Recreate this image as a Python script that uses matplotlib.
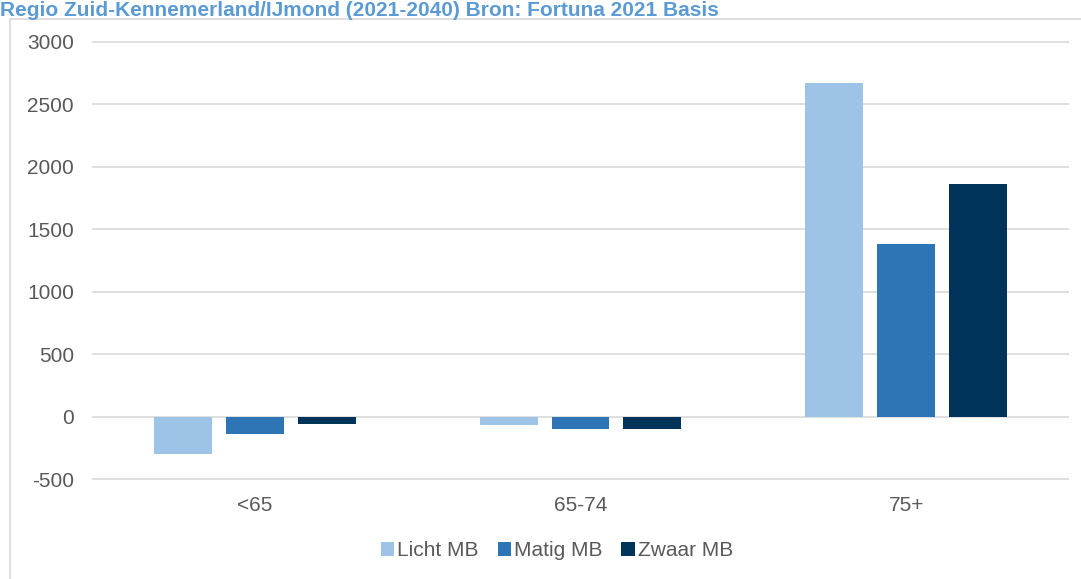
"""
Staafdiagram: groei aantal ouderen met beperkingen per leeftijdsgroep.
"""
import numpy as np
import matplotlib
matplotlib.use("Agg")
import matplotlib.pyplot as plt
from matplotlib.patches import Rectangle

categories = ["<65", "65-74", "75+"]
series_names = ["Licht MB", "Matig MB", "Zwaar MB"]
licht = [-300, -65, 2670]
matig = [-140, -100, 1380]
zwaar = [-60, -95, 1865]
yticks = [-500, 0, 500, 1000, 1500, 2000, 2500, 3000]

colors = ["#9DC3E6", "#2E75B6", "#003359"]
grey = "#595959"

plt.rcParams["font.family"] = ["Liberation Sans", "DejaVu Sans"]

fig = plt.figure(figsize=(10.81, 5.79), dpi=100)
W, H = 1081, 579

# kader rond de grafiek
fig.patches.append(Rectangle((10 / W, -0.01), 1.0, 1 - 19 / H + 0.01,
                             transform=fig.transFigure, fill=False,
                             edgecolor="#D9D9D9", linewidth=1.2))

ax = fig.add_axes([92 / W, 1 - 488 / H, (1069 - 92) / W, (488 - 33) / H])

x = np.arange(len(categories))
offset = 0.221
width = 0.178
for i, (vals, name) in enumerate(zip([licht, matig, zwaar], series_names)):
    ax.bar(x + (i - 1) * offset, vals, width, color=colors[i], label=name, zorder=3)

ax.set_xlim(-0.5, 2.5)
ax.set_ylim(-570, 3070)
ax.set_yticks(yticks)
ax.set_yticklabels([str(v) for v in yticks])
ax.set_xticks(x)
ax.set_xticklabels(categories)
ax.tick_params(axis="both", length=0, labelsize=15, colors=grey)
ax.tick_params(axis="y", pad=13)
ax.tick_params(axis="x", pad=6)
ax.grid(axis="y", color="#D9D9D9", linewidth=1.2, zorder=0)
for s in ax.spines.values():
    s.set_visible(False)

fig.text(0, 1 - 1 / H, "Regio Zuid-Kennemerland/IJmond (2021-2040) Bron: Fortuna 2021 Basis",
         fontsize=15, fontweight="bold", color="#5B9BD5", va="top", ha="left")

fig.legend(loc="center", bbox_to_anchor=(557 / W, 1 - 551 / H), ncol=3, frameon=False,
           fontsize=15, handlelength=0.65, handleheight=0.65, handletextpad=0.15,
           columnspacing=0.9, labelcolor=grey)

fig.savefig("out.png", dpi=100)
